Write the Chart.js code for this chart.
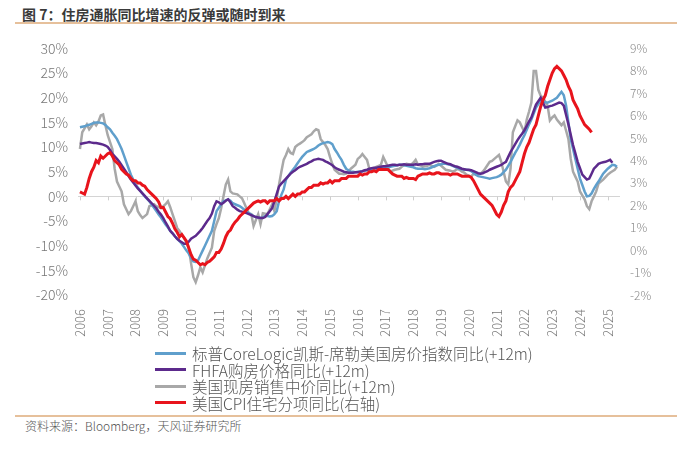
<!DOCTYPE html>
<html>
<head>
<meta charset="utf-8">
<script src="https://cdn.jsdelivr.net/npm/chart.js@4.4.1/dist/chart.umd.min.js"></script>
<style>
  body { margin: 0; width: 677px; height: 452px; background: #fff; position: relative; overflow: hidden;
         font-family: "Noto Sans CJK SC", "Noto Sans", sans-serif; }
  #title { position: absolute; left: 22px; top: 5px; font-size: 14px; line-height: 18px; font-weight: bold; color: #3a3a3a; }
  .rule { position: absolute; left: 15px; right: 0; height: 2px; background: #e6c09b; }
  #box { position: absolute; left: 0; top: 30px; width: 677px; height: 315px; }
  #legend { position: absolute; left: 155px; top: 345px; font-size: 15.5px; font-weight: 300; color: #555; }
  .item { display: flex; align-items: center; height: 16.5px; white-space: nowrap; }
  .swatch { width: 31px; height: 3px; margin-right: 6px; }
  #source { position: absolute; left: 25px; top: 418px; font-size: 12px; line-height: 16px; color: #555; font-weight: 300; }
</style>
</head>
<body>
<div id="title">图 7：住房通胀同比增速的反弹或随时到来</div>
<div class="rule" style="top:22px"></div>
<div id="box"><canvas id="chart"></canvas></div>
<div id="legend"></div>
<div class="rule" style="top:415px"></div>
<div id="source">资料来源：Bloomberg，天风证券研究所</div>
<script>
// monthly data, first point = Jan 2006 (house price series already shifted +12m)
const startYear = 2006;
const yearTicks = [2006, 2007, 2008, 2009, 2010, 2011, 2012, 2013, 2014, 2015,
                   2016, 2017, 2018, 2019, 2020, 2021, 2022, 2023, 2024, 2025];

const seriesNames = [
    "标普CoreLogic凯斯-席勒美国房价指数同比(+12m)",
    "FHFA购房价格同比(+12m)",
    "美国现房销售中价同比(+12m)",
    "美国CPI住宅分项同比(右轴)",
];
const seriesColors = ["#5f9fcc", "#5c2a8c", "#a8a8a8", "#e8141c"];

const caseShiller = [
    14.0, 14.1, 14.2, 14.4, 14.5, 14.7, 14.9, 15.0, 15.0, 14.9, 14.8, 14.5,
    14.0, 13.6, 12.9, 12.3, 11.6, 10.6, 9.6, 8.3, 7.0, 5.7, 4.4, 3.4,
    2.4, 1.8, 1.2, 0.6, 0.0, -0.5, -1.0, -1.7, -2.3, -3.0, -3.7, -4.3,
    -5.0, -5.7, -6.3, -7.0, -7.5, -8.1, -8.6, -9.1, -9.6, -10.3, -11.0, -11.6,
    -12.5, -13.2, -13.3, -13.0, -12.0, -11.0, -10.0, -9.0, -8.0, -7.0, -5.0, -3.0,
    -2.3, -1.6, -1.0, -0.8, -0.6, -0.9, -1.4, -1.6, -1.8, -2.0, -2.3, -2.7,
    -3.0, -3.4, -3.7, -4.0, -4.2, -4.3, -4.4, -4.3, -4.0, -4.0, -4.1, -4.0,
    -3.6, -3.0, -1.0, 0.3, 1.4, 3.4, 4.1, 4.8, 5.4, 6.0, 6.7, 7.4,
    8.0, 8.5, 9.0, 9.2, 9.4, 9.6, 9.9, 10.3, 10.6, 10.8, 10.9, 11.0,
    10.9, 10.6, 9.6, 8.9, 8.1, 7.4, 6.4, 5.6, 5.3, 5.0, 5.0, 4.9,
    5.0, 5.0, 5.1, 5.2, 5.3, 5.4, 5.4, 5.5, 5.5, 5.5, 5.6, 5.7,
    5.8, 5.9, 6.0, 6.1, 6.2, 6.3, 6.4, 6.4, 6.3, 6.2, 6.1, 6.0,
    5.9, 5.7, 5.6, 5.6, 5.6, 5.5, 5.6, 5.7, 5.9, 6.1, 6.3, 6.4,
    6.5, 6.6, 6.6, 6.5, 6.4, 6.2, 6.0, 5.8, 5.6, 5.5, 5.4, 5.4,
    5.3, 5.1, 4.8, 4.4, 4.1, 4.0, 3.9, 3.8, 3.7, 3.6, 3.7, 3.8,
    3.9, 4.1, 4.4, 4.9, 5.4, 6.2, 7.0, 7.9, 8.8, 9.6, 10.5, 11.5,
    12.4, 13.5, 14.6, 15.6, 16.8, 18.0, 18.7, 19.4, 19.3, 19.1, 19.0, 19.2,
    19.4, 19.7, 20.0, 20.6, 21.2, 20.5, 18.4, 15.0, 11.6, 9.6, 7.6, 5.6,
    3.6, 2.3, 1.0, 0.0, 0.1, 0.6, 1.5, 2.3, 3.0, 3.8, 4.6, 5.1,
    5.6, 6.0, 6.4, 6.3, 6.0,
];

const fhfa = [
    10.6, 10.7, 10.8, 10.9, 11.0, 10.9, 10.8, 10.8, 10.7, 10.6, 10.5, 10.3,
    10.0, 9.4, 8.6, 8.1, 7.6, 7.0, 6.3, 5.6, 4.9, 4.1, 3.4, 2.8,
    2.2, 1.6, 1.1, 0.6, 0.1, -0.4, -0.9, -1.4, -1.9, -2.4, -3.1, -3.7,
    -4.4, -5.3, -6.1, -7.0, -7.5, -8.1, -8.6, -9.0, -9.3, -9.6, -9.6, -9.2,
    -8.6, -8.3, -8.0, -7.5, -7.0, -6.4, -5.7, -5.0, -4.4, -3.5, -2.0, -1.0,
    -1.2, -1.6, -1.3, -0.9, -0.6, -1.2, -2.0, -2.3, -2.7, -3.0, -3.1, -3.3,
    -3.4, -3.6, -3.8, -4.0, -4.2, -4.3, -4.4, -4.4, -4.2, -3.6, -3.0, -2.4,
    -1.0, 0.5, 2.0, 2.6, 3.1, 3.6, 4.1, 4.6, 5.0, 5.3, 5.7, 6.0,
    6.2, 6.4, 6.6, 6.9, 7.1, 7.4, 7.5, 7.6, 7.5, 7.4, 7.1, 6.9,
    6.6, 6.3, 5.9, 5.6, 5.4, 5.2, 5.0, 4.9, 4.8, 4.8, 4.8, 4.9,
    4.9, 5.0, 5.1, 5.3, 5.4, 5.6, 5.7, 5.8, 5.8, 5.9, 6.0, 6.1,
    6.1, 6.2, 6.3, 6.4, 6.4, 6.3, 6.4, 6.4, 6.5, 6.4, 6.4, 6.4,
    6.4, 6.5, 6.4, 6.5, 6.5, 6.6, 6.6, 6.6, 6.8, 7.0, 7.1, 7.2,
    7.2, 7.0, 6.8, 6.6, 6.5, 6.3, 6.1, 6.0, 5.8, 5.6, 5.5, 5.4,
    5.4, 5.3, 5.1, 4.9, 4.7, 4.6, 4.7, 4.9, 5.1, 5.4, 5.6, 5.8,
    6.0, 6.2, 6.4, 6.7, 7.0, 8.0, 9.0, 9.8, 10.6, 11.4, 12.1, 12.7,
    13.4, 14.3, 15.2, 16.0, 17.3, 18.6, 19.3, 20.0, 19.0, 18.0, 18.1, 18.3,
    18.4, 18.6, 18.8, 19.0, 18.9, 18.4, 16.5, 14.6, 12.5, 10.4, 8.7, 7.0,
    5.7, 4.4, 3.9, 3.4, 3.6, 4.6, 5.6, 6.1, 6.6, 6.8, 6.9, 7.0,
    7.2, 7.4, 6.8,
];

const existingSales = [
    9.6, 13.0, 13.8, 14.6, 13.6, 14.2, 15.0, 14.4, 15.2, 16.4, 16.6, 14.4,
    12.4, 11.0, 9.6, 5.6, 3.0, 2.0, 1.0, -1.6, -2.6, -3.6, -3.0, -2.0,
    -1.0, -3.0, -3.8, -4.4, -4.0, -3.6, -2.0, -1.8, -1.6, -2.0, -2.2, -2.4,
    -2.0, -1.6, -1.0, -2.2, -3.6, -5.0, -6.4, -7.0, -7.8, -8.4, -9.4, -10.4,
    -13.6, -16.4, -17.4, -16.0, -14.4, -15.4, -14.0, -12.6, -11.5, -10.4, -7.0, -5.6,
    -4.4, -2.4, 0.0, 2.4, 3.4, 1.0, 0.6, 0.5, 0.4, 0.0, -0.4, -1.4,
    -2.5, -3.5, -3.6, -6.0, -4.8, -3.6, -5.6, -3.4, -3.5, -3.6, -2.6, -1.6,
    -3.0, -0.5, 2.4, 5.0, 7.4, 8.4, 9.6, 8.8, 8.6, 10.0, 10.4, 10.7,
    11.0, 11.4, 12.0, 12.3, 12.6, 13.2, 13.6, 13.4, 11.6, 11.0, 10.4, 9.6,
    8.0, 6.6, 5.4, 5.0, 4.6, 4.6, 4.5, 4.6, 5.0, 5.6, 6.0, 6.4,
    7.6, 8.0, 8.6, 8.0, 7.4, 5.6, 5.6, 5.6, 6.0, 6.2, 6.4, 8.0,
    7.0, 6.0, 5.0, 5.2, 5.4, 5.5, 5.6, 6.0, 6.3, 6.6, 6.5, 6.4,
    6.8, 7.4, 6.4, 6.3, 6.0, 6.1, 6.2, 6.4, 6.2, 6.0, 6.2, 6.6,
    6.2, 5.8, 5.4, 5.3, 5.2, 5.0, 5.2, 5.6, 5.4, 5.0, 4.8, 4.4,
    4.2, 4.0, 4.6, 4.4, 4.5, 4.6, 5.0, 5.6, 6.3, 7.0, 7.2, 7.6,
    8.0, 8.4, 7.0, 5.0, 3.0, 2.4, 5.6, 13.0, 14.2, 15.4, 15.0, 14.0,
    13.0, 15.6, 17.2, 19.0, 25.4, 25.4, 21.6, 20.4, 20.0, 19.2, 18.4, 15.4,
    16.0, 16.4, 15.6, 15.0, 14.4, 15.0, 13.3, 11.6, 7.6, 5.0, 4.0, 3.0,
    1.0, 0.2, -0.6, -2.0, -2.6, -1.0, 0.0, 1.0, 2.6, 3.0, 3.4, 3.9,
    4.4, 4.8, 5.1, 5.4, 6.0,
];

const cpiShelter = [
    2.6, 2.55, 2.5, 2.8, 3.2, 3.5, 3.7, 4.0, 3.9, 4.2, 4.1, 4.2,
    4.3, 4.35, 4.2, 4.0, 3.9, 3.8, 3.6, 3.5, 3.4, 3.35, 3.2, 3.1,
    3.1, 3.0, 3.0, 2.9, 2.85, 2.7, 2.6, 2.5, 2.4, 2.3, 2.15, 1.9,
    1.9, 1.7, 1.5, 1.4, 1.2, 0.95, 0.8, 0.6, 0.7, 0.55, 0.4, 0.1,
    -0.2, -0.4, -0.45, -0.55, -0.65, -0.6, -0.65, -0.55, -0.5, -0.4, -0.3, -0.1,
    -0.1, 0.05, 0.3, 0.6, 0.8, 0.9, 1.1, 1.25, 1.35, 1.5, 1.6, 1.7,
    1.8, 1.9, 2.0, 2.1, 2.15, 2.2, 2.15, 2.2, 2.2, 2.1, 2.2, 2.2,
    2.2, 2.3, 2.2, 2.3, 2.3, 2.4, 2.3, 2.4, 2.5, 2.4, 2.5, 2.5,
    2.6, 2.6, 2.7, 2.8, 2.8, 2.9, 2.9, 2.9, 3.0, 2.95, 3.0, 3.0,
    3.1, 3.0, 3.1, 3.1, 3.1, 3.2, 3.2, 3.2, 3.3, 3.3, 3.3, 3.3,
    3.3, 3.4, 3.35, 3.4, 3.4, 3.5, 3.5, 3.55, 3.5, 3.6, 3.6, 3.6,
    3.6, 3.6, 3.5, 3.4, 3.35, 3.3, 3.3, 3.3, 3.2, 3.25, 3.2, 3.2,
    3.2, 3.15, 3.3, 3.35, 3.4, 3.4, 3.4, 3.45, 3.4, 3.4, 3.45, 3.45,
    3.4, 3.4, 3.4, 3.4, 3.35, 3.4, 3.4, 3.4, 3.35, 3.3, 3.3, 3.3,
    3.3, 3.25, 3.1, 2.9, 2.7, 2.5, 2.4, 2.3, 2.2, 2.1, 2.0, 1.8,
    1.6, 1.5, 1.7, 2.0, 2.2, 2.6, 2.8, 2.9, 3.1, 3.3, 3.5, 3.9,
    4.3, 4.6, 4.8, 5.1, 5.4, 5.6, 6.0, 6.4, 6.7, 6.9, 7.3, 7.6,
    7.9, 8.1, 8.2, 8.1, 8.0, 7.8, 7.6, 7.3, 7.1, 6.7, 6.5, 6.3,
    6.0, 5.8, 5.6, 5.5, 5.4, 5.25,
];

const toPoints = (arr) => arr.map((v, i) => ({ x: startYear + i / 12, y: v }));

// small tick marks on the zero line, one per year
const yearMarks = {
    id: "yearMarks",
    beforeDatasetsDraw(chart) {
        const { ctx, scales } = chart;
        const y0 = scales.y.getPixelForValue(0);
        ctx.save();
        ctx.strokeStyle = "#cfcfcf";
        ctx.lineWidth = 1;
        scales.x.ticks.forEach((t) => {
            const px = Math.round(scales.x.getPixelForValue(t.value)) + 0.5;
            ctx.beginPath();
            ctx.moveTo(px, y0);
            ctx.lineTo(px, y0 + 4);
            ctx.stroke();
        });
        ctx.restore();
    },
};

const tickFont = { family: "'Noto Sans CJK SC', sans-serif", size: 13, weight: 300 };

const seriesData = [caseShiller, fhfa, existingSales, cpiShelter];
const drawOrder = [2, 1, 3, 0];

const chart = new Chart(document.getElementById("chart"), {
    type: "line",
    data: {
        datasets: seriesData.map((arr, i) => ({
            label: seriesNames[i],
            data: toPoints(arr),
            borderColor: seriesColors[i],
            backgroundColor: seriesColors[i],
            borderWidth: i === 3 ? 3 : 2.5,
            yAxisID: i === 3 ? "y1" : "y",
            order: drawOrder[i],
        })),
    },
    options: {
        responsive: true,
        maintainAspectRatio: false,
        animation: false,
        layout: { padding: { top: 15 } },
        elements: { point: { radius: 0 }, line: { tension: 0 } },
        plugins: { legend: { display: false }, tooltip: { enabled: false } },
        scales: {
            x: {
                type: "linear",
                min: 2005.93,
                max: 2025.44,
                grid: { display: false },
                border: { display: false },
                afterBuildTicks: (axis) => {
                    axis.ticks = yearTicks.map((v) => ({ value: v }));
                },
                afterFit: (scale) => {
                    scale.height = 50;
                },
                ticks: {
                    autoSkip: false,
                    minRotation: 90,
                    maxRotation: 90,
                    padding: 6,
                    color: "#777",
                    font: tickFont,
                    callback: (v) => String(v),
                },
            },
            y: {
                position: "left",
                min: -20,
                max: 30,
                border: { display: false },
                grid: {
                    drawTicks: false,
                    color: (c) => (c.tick && c.tick.value === 0 ? "#d4d4d4" : "rgba(0,0,0,0)"),
                },
                afterFit: (scale) => {
                    scale.width = 78;
                },
                ticks: {
                    stepSize: 5,
                    padding: 10,
                    color: "#777",
                    font: { ...tickFont, size: 14 },
                    callback: (v) => v + "%",
                },
            },
            y1: {
                position: "right",
                min: -2,
                max: 9,
                border: { display: false },
                grid: { display: false, drawTicks: false },
                afterFit: (scale) => {
                    scale.width = 57;
                },
                ticks: {
                    stepSize: 1,
                    padding: 10,
                    color: "#888",
                    font: { ...tickFont, size: 12 },
                    callback: (v) => v + "%",
                },
            },
        },
    },
    plugins: [yearMarks],
});

// legend, one entry per row
const legend = document.getElementById("legend");
chart.data.datasets.forEach((ds) => {
    const row = document.createElement("div");
    row.className = "item";
    const sw = document.createElement("span");
    sw.className = "swatch";
    sw.style.background = ds.borderColor;
    const txt = document.createElement("span");
    txt.textContent = ds.label;
    row.appendChild(sw);
    row.appendChild(txt);
    legend.appendChild(row);
});
</script>
</body>
</html>
